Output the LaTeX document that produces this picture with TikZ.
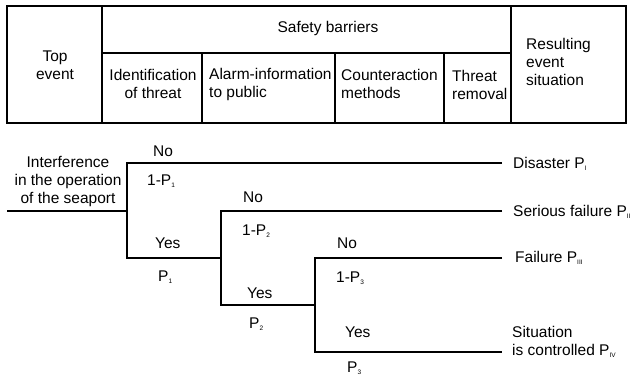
\documentclass[tikz,border=0pt]{standalone}
\usepackage{fontspec}
\setmainfont{Liberation Sans}
\newcommand{\sbs}[1]{\raisebox{-2pt}[0pt][0pt]{\fontsize{6.5}{6.5}\selectfont #1}}
\begin{document}
\begin{tikzpicture}[x=1pt,y=-1pt,
  lbl/.style={inner sep=0pt, font=\fontsize{15.5}{18}\selectfont},
  cell/.style={draw, line width=1.3pt},
  branch/.style={line width=1.8pt, line join=miter}]
\useasboundingbox (0,0) rectangle (630,376);
% table
\draw[cell] (7,6) rectangle (626,123);
\draw[cell] (102,6) -- (102,123);
\draw[cell] (511,6) -- (511,123);
\draw[cell] (102,53) -- (511,53);
\draw[cell] (202,53) -- (202,123);
\draw[cell] (335,53) -- (335,123);
\draw[cell] (444,53) -- (444,123);
\node[lbl, align=center] (top) at (55,65.5) {Top\\event};
\node[lbl] (sb) at (328,28) {Safety barriers};
\node[lbl, align=center] (id) at (153,84) {Identification\\of threat};
\node[lbl, align=left, anchor=west] (al) at (209,84) {Alarm-information\\to public};
\node[lbl, align=left, anchor=west] (cm) at (341,84) {Counteraction\\methods};
\node[lbl, align=left, anchor=west] (tr) at (452,85) {Threat\\removal};
\node[lbl, align=left, anchor=west] (res) at (526,62) {Resulting\\event\\situation};
% tree
\coordinate (s) at (7,211);
\coordinate (n1m) at (127,211);
\coordinate (n1t) at (127,163);
\coordinate (n1b) at (127,258);
\coordinate (e1) at (502,163);
\coordinate (n2m) at (221,258);
\coordinate (n2t) at (221,211);
\coordinate (n2b) at (221,305);
\coordinate (e2) at (502,211);
\coordinate (n3m) at (315,305);
\coordinate (n3t) at (315,258);
\coordinate (n3b) at (315,352);
\coordinate (e3) at (502,258);
\coordinate (e4) at (502,352);
\draw[branch] (s) -- (n1m);
\draw[branch] (e1) -- (n1t) -- (n1b) -- (n2m);
\draw[branch] (e2) -- (n2t) -- (n2b) -- (n3m);
\draw[branch] (e3) -- (n3t) -- (n3b) -- (e4);
\node[lbl, align=center] (ie) at (68,181) {Interference\\in the operation\\of the seaport};
\node[lbl, anchor=west] (no1) at (153,151) {No};
\node[lbl, anchor=west] (q1) at (147,180) {1-P\sbs{1}};
\node[lbl, anchor=west] (yes1) at (155,243) {Yes};
\node[lbl, anchor=west] (p1) at (158,276) {P\sbs{1}};
\node[lbl, anchor=west] (no2) at (243,197) {No};
\node[lbl, anchor=west] (q2) at (242,230) {1-P\sbs{2}};
\node[lbl, anchor=west] (yes2) at (247,293) {Yes};
\node[lbl, anchor=west] (p2) at (249,323) {P\sbs{2}};
\node[lbl, anchor=west] (no3) at (337,243) {No};
\node[lbl, anchor=west] (q3) at (336,277) {1-P\sbs{3}};
\node[lbl, anchor=west] (yes3) at (345,332) {Yes};
\node[lbl, anchor=west] (p3) at (347,367) {P\sbs{3}};
\node[lbl, anchor=west] (r1) at (513,163) {Disaster P\sbs{I}};
\node[lbl, anchor=west] (r2) at (513,211) {Serious failure P\sbs{II}};
\node[lbl, anchor=west] (r3) at (515,257) {Failure P\sbs{III}};
\node[lbl, align=left, anchor=west] (r4) at (512,341) {Situation\\is controlled P\sbs{IV}};
\end{tikzpicture}
\end{document}
